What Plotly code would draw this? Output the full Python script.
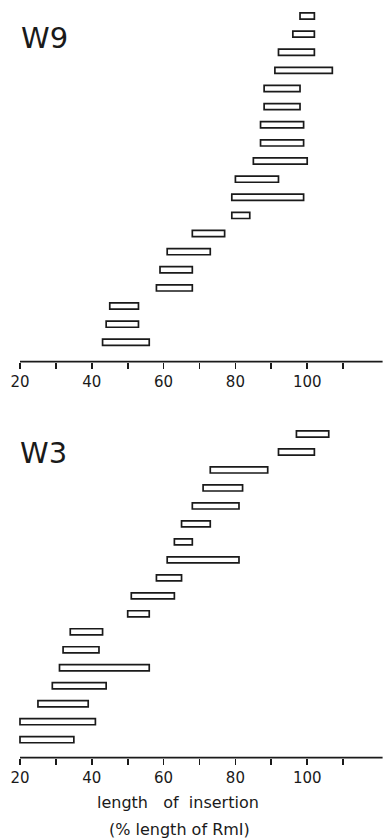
import plotly.graph_objects as go

W, H = 386, 840

# W9 panel (bottom to top), % length of RmI
w9_start = [43, 44, 45, 58, 59, 61, 68, 79, 79, 80, 85, 87, 87, 88, 88, 91, 92, 96, 98]
w9_end   = [56, 53, 53, 68, 68, 73, 77, 84, 99, 92, 100, 99, 99, 98, 98, 107, 102, 102, 102]

# W3 panel (bottom to top)
w3_start = [20, 20, 25, 29, 31, 32, 34, 50, 51, 58, 61, 63, 65, 68, 71, 73, 92, 97]
w3_end   = [35, 41, 39, 44, 56, 42, 43, 56, 63, 65, 81, 68, 73, 81, 82, 89, 102, 106]

tick_vals = [20, 30, 40, 50, 60, 70, 80, 90, 100, 110]
tick_text = ["20", "", "40", "", "60", "", "80", "", "100", ""]

panel_labels = ["W9", "W3"]
xtitle1 = "length&nbsp;&nbsp; of&nbsp; insertion"
xtitle2 = "(% length of RmI)"

fig = go.Figure()

def py(p):
    return 1 - p / H

def px(p):
    return p / W

x_scale = 3.59  # px per unit
x_range = [20 - 20 / x_scale, 20 + (W - 20) / x_scale]

s1 = (342.3 - 16) / 18
y1_range = [1 - (361.7 - 342.3) / s1, 19 + 16 / s1]
s2 = (739.7 - 434) / 17
y2_top_px = 400
y2_range = [1 - (757.7 - 739.7) / s2, 18 + (434 - y2_top_px) / s2]

bar_w = 0.34
ink = "#1a1a1a"

fig.add_trace(go.Bar(
    y=list(range(1, len(w9_start) + 1)),
    x=[e - s for s, e in zip(w9_start, w9_end)],
    base=w9_start, orientation="h", width=bar_w,
    marker=dict(color="white", line=dict(color=ink, width=1.7)),
    xaxis="x", yaxis="y", hoverinfo="skip", showlegend=False,
))
fig.add_trace(go.Bar(
    y=list(range(1, len(w3_start) + 1)),
    x=[e - s for s, e in zip(w3_start, w3_end)],
    base=w3_start, orientation="h", width=bar_w,
    marker=dict(color="white", line=dict(color=ink, width=1.7)),
    xaxis="x2", yaxis="y2", hoverinfo="skip", showlegend=False,
))

xcommon = dict(range=x_range, domain=[0, 1], tickmode="array", tickvals=tick_vals,
               ticktext=tick_text, ticks="outside", ticklen=6, tickwidth=1.6,
               tickcolor=ink, showline=False, showgrid=False, zeroline=False,
               tickfont=dict(family="DejaVu Sans", size=15, color=ink))
ycommon = dict(showticklabels=False, ticks="", showgrid=False, zeroline=False, showline=False)

fig.update_layout(
    width=W, height=H, margin=dict(l=0, r=0, t=0, b=0),
    paper_bgcolor="white", plot_bgcolor="white",
    xaxis=dict(anchor="y", **xcommon),
    yaxis=dict(domain=[py(361.7), 1.0], range=y1_range, anchor="x", **ycommon),
    xaxis2=dict(anchor="y2", **xcommon),
    yaxis2=dict(domain=[py(757.7), py(y2_top_px)], range=y2_range, anchor="x2", **ycommon),
    bargap=0,
)

for xr, yr in [("x", "y domain"), ("x2", "y2 domain")]:
    fig.add_shape(type="line", xref=xr, yref=yr, x0=20, x1=121, y0=0, y1=0,
                  line=dict(color=ink, width=1.7))

fig.add_annotation(text=panel_labels[0], xref="paper", yref="paper", x=px(19), y=py(38),
                   xanchor="left", yanchor="middle", showarrow=False,
                   font=dict(family="DejaVu Sans", size=29, color=ink))
fig.add_annotation(text=panel_labels[1], xref="paper", yref="paper", x=px(18), y=py(453),
                   xanchor="left", yanchor="middle", showarrow=False,
                   font=dict(family="DejaVu Sans", size=29, color=ink))

fig.add_annotation(text=xtitle1, xref="paper", yref="paper", x=px(178), y=py(802),
                   xanchor="center", yanchor="middle", showarrow=False,
                   font=dict(family="DejaVu Sans", size=16, color=ink))
fig.add_annotation(text=xtitle2, xref="paper", yref="paper", x=px(179), y=py(829),
                   xanchor="center", yanchor="middle", showarrow=False,
                   font=dict(family="DejaVu Sans", size=16, color=ink))

fig.write_html("out.html", config={"displayModeBar": False, "staticPlot": True},
               post_script="document.body.style.margin='0';document.body.style.overflow='hidden';")
